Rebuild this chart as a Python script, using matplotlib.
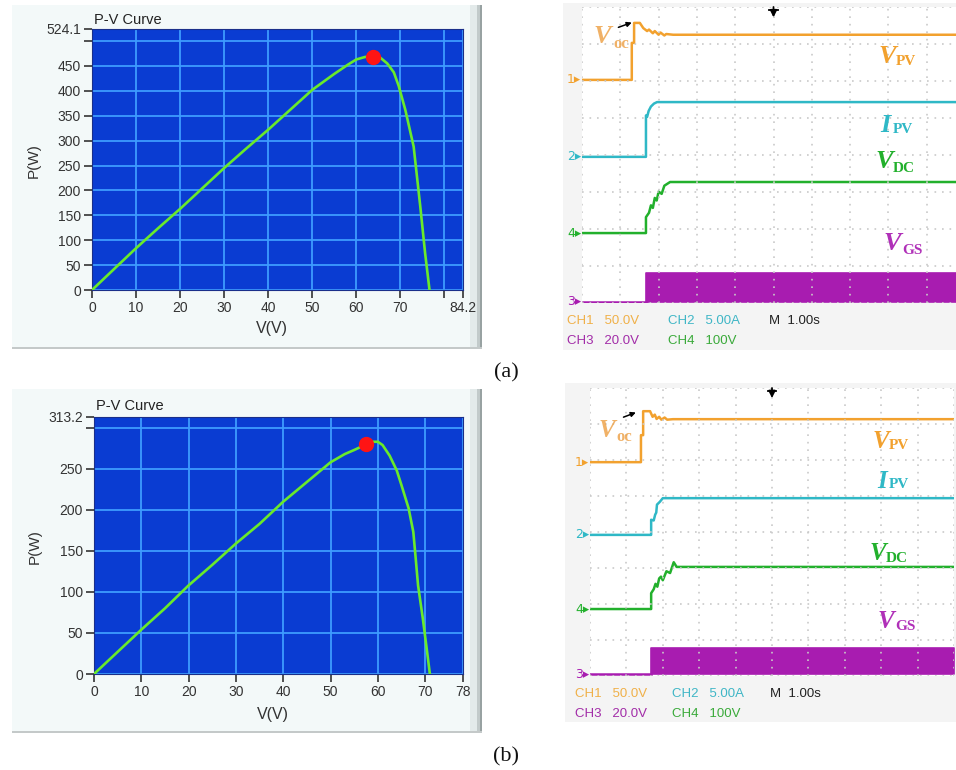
import matplotlib.pyplot as plt
from matplotlib.patches import Rectangle

W, H = 956, 770

# P-V curves
pv_a_v = [0, 5, 10, 15, 20, 25, 30, 35, 40, 45, 50, 55, 58, 60, 62, 63.8, 65.5, 67, 68.5, 69.6, 71.1, 73.0, 74.5, 75.6, 76.6]
pv_a_p = [0, 42, 84, 124, 163, 204, 245, 284, 322, 362, 402, 434, 452, 463, 468, 468, 466, 455, 437, 410, 362, 288, 168, 74, 0]
mpp_a = (63.8, 468)

pv_b_v = [0, 5, 10, 15, 20, 25, 30, 35, 40, 45, 50, 53, 55, 57.6, 59, 60, 61, 62.5, 64, 65, 66.5, 67.5, 68, 68.5, 69.5, 70.3, 71]
pv_b_p = [0, 27, 54, 80, 108, 133, 159, 183, 210, 234, 258, 268, 273, 280, 283, 283, 279, 266, 248, 230, 202, 173, 141, 108, 68, 32, 0]
mpp_b = (57.6, 280)

# scope traces: time (s) and value in channel units
ch_scale = {"CH1": 50.0, "CH2": 5.0, "CH3": 20.0, "CH4": 100.0}

a_v1_t = [0, 1.30, 1.30, 1.36, 1.36, 1.51, 1.60, 1.70, 1.75, 1.85, 1.90, 2.00, 2.05, 2.15, 2.20, 2.38, 10]
a_v1 = [0, 0, 50, 50, 77, 77, 70, 66, 68, 63, 66, 61, 64, 60, 62, 61, 61]
a_i_t = [0, 1.67, 1.67, 1.70, 1.74, 1.80, 1.88, 1.96, 10]
a_i = [0, 0, 5.6, 5.4, 6.2, 6.8, 7.2, 7.4, 7.4]
a_dc_t = [0, 1.67, 1.67, 1.75, 1.80, 1.85, 1.90, 1.95, 2.00, 2.08, 2.15, 2.30, 10]
a_dc = [0, 0, 43, 55, 75, 68, 95, 88, 112, 106, 128, 138, 138]
a_gs_on, a_gs = 1.67, 15.7
a_off = [6.03, 3.95, 0.03, 1.89]

b_v1_t = [0, 1.40, 1.40, 1.46, 1.46, 1.65, 1.72, 1.78, 1.83, 1.90, 1.96, 2.05, 2.12, 2.28, 10]
b_v1 = [0, 0, 37.5, 37.5, 70.8, 70.8, 63, 66, 60, 63, 59, 62, 59, 59.7, 59.7]
b_i_t = [0, 1.68, 1.68, 1.75, 1.79, 1.82, 1.84, 1.92, 2.00, 10]
b_i = [0, 0, 2.1, 2.0, 2.8, 3.1, 4.2, 4.6, 5.1, 5.1]
b_dc_t = [0, 1.68, 1.68, 1.75, 1.80, 1.85, 1.90, 1.95, 2.00, 2.10, 2.20, 2.30, 2.38, 10]
b_dc = [0, 0, 44, 55, 70, 62, 85, 90, 80, 105, 100, 130, 117, 117]
b_gs_on, b_gs = 1.68, 14.4
b_off = [5.94, 3.92, 0.05, 1.86]

c_or, c_cy, c_gr, c_mg = "#f2a12e", "#2fb8c6", "#22b02c", "#a81cb0"

fig = plt.figure(figsize=(W / 100, H / 100), dpi=100)
fig.patch.set_facecolor("white")


def box(x0, y0, x1, y1):
    return [x0 / W, 1 - y1 / H, (x1 - x0) / W, (y1 - y0) / H]


def ftext(x, y, s, **kw):
    fig.text(x / W, 1 - y / H, s, **kw)


def rect(x0, y0, x1, y1, color, z=0):
    fig.add_artist(Rectangle((x0 / W, 1 - y1 / H), (x1 - x0) / W, (y1 - y0) / H,
                             transform=fig.transFigure, facecolor=color, edgecolor="none", zorder=z))


def pv_panel(pbox, abox, v, p, mpp, xmax, ymax, xt, xl, yt, yl, title_y, ylab, xlab):
    x0, y0, x1, y1 = pbox
    rect(x0, y0, x1, y1, "#f3f9f9")
    rect(x1 - 12, y0, x1, y1, "#e3eaea")
    rect(x1 - 5, y0, x1, y1, "#c2caca")
    rect(x1 - 2, y0, x1, y1, "#98a2a2")
    rect(x0, y1 - 2, x1, y1, "#c4c9c9")
    ax = fig.add_axes(box(*abox))
    ax.set_facecolor("#0a3cd2")
    ax.plot(v, p, color="#6aea2a", lw=1.9, zorder=3)
    ax.plot(*mpp, "o", color="#ff1414", ms=10, zorder=4)
    ax.set_xlim(0, xmax)
    ax.set_ylim(0, ymax)
    ax.set_xticks(xt, xl)
    ax.set_yticks(yt, yl)
    ax.grid(True, color="#3e9cff", lw=1.3)
    ax.set_axisbelow(True)
    ax.tick_params(direction="out", length=6, width=1.2, color="#333333",
                   labelsize=10, labelcolor="#333333", pad=2)
    for s in ax.spines.values():
        s.set_color("#1a2f8a")
    ftext(abox[0] + 2, title_y, "P-V Curve", fontsize=10.5, color="#222222", family="Liberation Sans")
    ftext(*ylab, "P(W)", fontsize=11, color="#333333", rotation=90, ha="center", va="center",
          family="Liberation Sans")
    ftext(*xlab, "V(V)", fontsize=11.5, color="#333333", ha="center", va="center", family="Liberation Sans")
    for lab in ax.get_xticklabels() + ax.get_yticklabels():
        lab.set_family("Liberation Sans")
    return ax


def sub_label(ax, t, y, main, sub, color, dx, dy, size=19, ssize=11, alpha=1.0):
    ax.text(t, y, main, color=color, fontsize=size, family="Liberation Serif", weight="bold",
            style="italic", va="baseline", alpha=alpha)
    ax.annotate(sub, (t, y), xytext=(dx, dy), textcoords="offset points", color=color,
                fontsize=ssize, family="Liberation Serif", weight="bold", va="baseline", alpha=alpha)


def scope(pbox, abox, off, v1t, v1, it, iv, dct, dc, gs_on, gs, labels, arrow, text_rows):
    rect(*pbox, "#f4f4f4")
    ax = fig.add_axes(box(*abox))
    ax.set_facecolor("white")
    ax.set_xlim(0, 10)
    ax.set_ylim(0, 8)
    ax.set_xticks(range(11))
    ax.set_yticks(range(9))
    ax.tick_params(length=0, labelbottom=False, labelleft=False)
    ax.grid(True, color="#c9c9c9", lw=1.2, linestyle=(0, (1, 3.5)))
    ax.set_axisbelow(False)
    for s in ax.spines.values():
        s.set_visible(False)
    o1, o2, o3, o4 = off
    ax.plot(v1t, [o1 + v / ch_scale["CH1"] for v in v1], color=c_or, lw=1.8, zorder=1)
    ax.plot(it, [o2 + v / ch_scale["CH2"] for v in iv], color=c_cy, lw=1.8, zorder=1)
    ax.plot(dct, [o4 + v / ch_scale["CH4"] for v in dc], color=c_gr, lw=1.8, zorder=1)
    ax.plot([0, gs_on], [o3, o3], color=c_mg, lw=1.8, zorder=1)
    ax.fill_between([gs_on, 10], o3, o3 + gs / ch_scale["CH3"], color=c_mg, lw=1.2, edgecolor=c_mg, zorder=1)
    for k, (o, c) in enumerate(zip([o1, o2, o4, o3], [c_or, c_cy, c_gr, c_mg])):
        ax.text(-0.02, o, "%s\u25b8" % "1243"[k], color=c, fontsize=9, ha="right", va="center",
                family="DejaVu Sans")
    ax.annotate("", xy=(5, 7.72), xytext=(5, 8.0),
                arrowprops=dict(arrowstyle="-|>", color="black", lw=1.3, mutation_scale=10,
                                shrinkA=0, shrinkB=0))
    ax.plot([4.88, 5.12], [7.92, 7.92], color="black", lw=1.3)
    ax.annotate("", xy=arrow[1], xytext=arrow[0],
                arrowprops=dict(arrowstyle="-|>", color="black", lw=1.1, mutation_scale=7,
                                shrinkA=0, shrinkB=0))
    for lab in labels:
        sub_label(ax, *lab)
    for (x, y, s, c) in text_rows:
        ftext(x, y, s, color=c, fontsize=9.5, family="Liberation Sans", va="baseline")
    return ax


# panel (a)
pv_panel((12, 5, 482, 349), (92, 29, 463, 290), pv_a_v, pv_a_p, mpp_a, 84.2, 524.1,
         [0, 10, 20, 30, 40, 50, 60, 70, 80, 84.2], ["0", "10", "20", "30", "40", "50", "60", "70", "", "84.2"],
         [0, 50, 100, 150, 200, 250, 300, 350, 400, 450, 500, 524.1],
         ["0", "50", "100", "150", "200", "250", "300", "350", "400", "450", "", "524.1"],
         24, (34, 161), (272, 329))

scope((563, 3, 956, 350), (582, 7, 965, 303), a_off, a_v1_t, a_v1, a_i_t, a_i, a_dc_t, a_dc, a_gs_on, a_gs,
      [(0.30, 7.03, "V", "oc", "#eea44c", 14, -3.5, 19, 12, 0.85),
       (7.73, 6.49, "V", "PV", c_or, 12.5, -1.5),
       (7.78, 4.62, "I", "PV", c_cy, 9.5, -1),
       (7.65, 3.65, "V", "DC", c_gr, 12.5, -3),
       (7.86, 1.43, "V", "GS", "#b030b8", 13.5, -2.5)],
      ((0.95, 7.45), (1.30, 7.58)),
      [(567, 324, "CH1   50.0V", "#f0b048"), (668, 324, "CH2   5.00A", "#3fb6c6"),
       (769, 324, "M  1.00s", "#222222"),
       (567, 344, "CH3   20.0V", "#a22ca8"), (668, 344, "CH4   100V", "#3aaa3a")])

ftext(506, 373, "(a)", fontsize=16, family="Liberation Serif", ha="center", va="center", color="#111111")

# panel (b)
pv_panel((12, 389, 482, 733), (94, 417, 463, 674), pv_b_v, pv_b_p, mpp_b, 78, 313.2,
         [0, 10, 20, 30, 40, 50, 60, 70, 78], ["0", "10", "20", "30", "40", "50", "60", "70", "78"],
         [0, 50, 100, 150, 200, 250, 300, 313.2], ["0", "50", "100", "150", "200", "250", "", "313.2"],
         410, (35, 547), (273, 715))

scope((565, 383, 956, 722), (590, 388, 954, 676), b_off, b_v1_t, b_v1, b_i_t, b_i, b_dc_t, b_dc, b_gs_on, b_gs,
      [(0.24, 6.64, "V", "oc", "#eea44c", 13, -3, 18, 12, 0.85),
       (7.77, 6.33, "V", "PV", c_or, 11.5, -0.5, 18),
       (7.88, 5.22, "I", "PV", c_cy, 8.5, 0, 18),
       (7.69, 3.22, "V", "DC", c_gr, 11.5, -1.5, 18),
       (7.91, 1.33, "V", "GS", "#b030b8", 12.5, -1.5, 18)],
      ((0.92, 7.19), (1.26, 7.32)),
      [(575, 697, "CH1   50.0V", "#f0b048"), (672, 697, "CH2   5.00A", "#3fb6c6"),
       (770, 697, "M  1.00s", "#222222"),
       (575, 717, "CH3   20.0V", "#a22ca8"), (672, 717, "CH4   100V", "#3aaa3a")])

ftext(506, 757, "(b)", fontsize=16, family="Liberation Serif", ha="center", va="center", color="#111111")

fig.savefig("out.png", dpi=100)
